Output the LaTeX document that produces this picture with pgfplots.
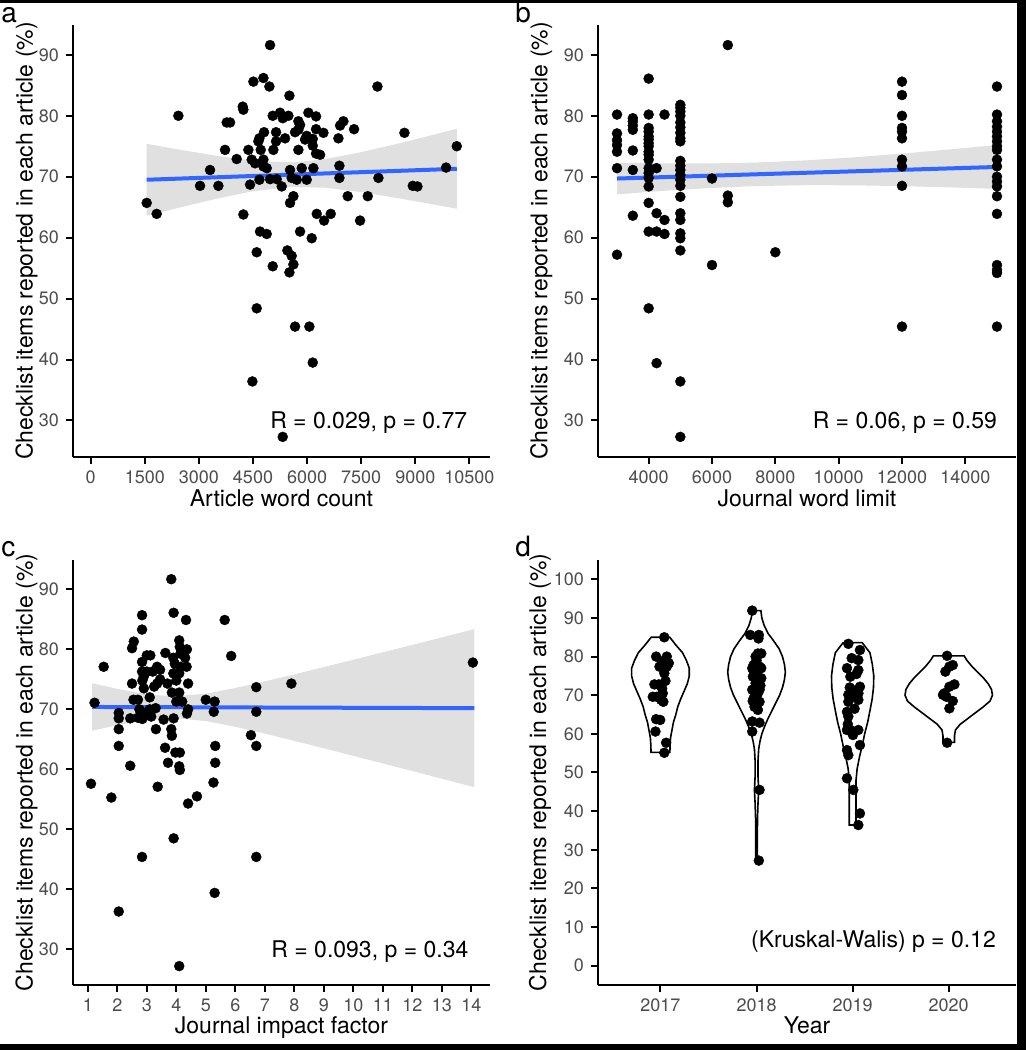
\documentclass[border=0pt]{standalone}
\usepackage{fontspec}
\setmainfont{TeX Gyre Heros}
\usepackage{pgfplots}
\pgfplotsset{compat=1.18}
\definecolor{ggblue}{HTML}{3366FF}
\definecolor{tickgray}{HTML}{4D4D4D}
\tikzset{annot/.style={font=\fontsize{11.5}{13}\selectfont, anchor=base}}
\pgfplotsset{
  ggstyle/.style={
    scale only axis,
    anchor=south west,
    axis lines*=left,
    axis line style={black, line width=1pt},
    tick style={black, line width=1pt},
    tick align=outside,
    major tick length=3.5pt,
    scaled ticks=false,
    tick label style={font=\fontsize{9}{10}\selectfont, text=tickgray},
    label style={font=\fontsize{11.5}{13}\selectfont},
    /pgf/number format/assume math mode=true,
    /pgf/number format/1000 sep={},
    ylabel={Checklist items reported in each article (\%)},
  },
  dots/.style={only marks, mark=*, mark size=2.5pt, mark options={draw=black, fill=black, line width=0.2pt}},
  rib/.style={fill=gray!60, fill opacity=0.4, draw=none},
  fit/.style={ggblue, line width=2pt, no marks},
}
\begin{document}
\begin{tikzpicture}
\fill[white] (0,0) rectangle (513pt,525pt);
\useasboundingbox (0,0) rectangle (513pt,525pt);
% ---------- panel a
\begin{axis}[ggstyle, at={(36.5pt,296.5pt)}, width=208.5pt, height=216pt,
  xmin=-490, xmax=11070, ymin=24, ymax=94.9,
  xtick={0,1500,...,10500}, ytick={30,40,...,90},
  xlabel={Article word count},
  xlabel style={at={(axis description cs:0.5,-0.115)}, anchor=base},
  ylabel style={at={(axis description cs:-0.097,0.5)}, anchor=base}]
\addplot[dots] coordinates {
(4973,91.6) (4511,85.6) (4788,86.2) (4954,84.8) (5509,83.3) (7949,84.8) (2431,80.0) (4215,81.5) (4233,81.0) (3771,78.9) (3864,78.9) (5047,80.0) (5250,80.5) (5324,79.6) (5481,80.0) (6036,80.5) (6248,79.9) (5758,79.1) (5805,78.5) (7006,79.1) (6914,78.4) (7302,77.8) (4806,77.3) (5139,77.3) (5389,76.3) (4677,76.3) (4649,75.8) (5139,75.8) (5666,77.3) (5758,77.7) (5943,76.1) (6156,76.2) (6248,77.8) (6452,77.2) (5989,76.7) (6868,76.3) (8698,77.2) (10149,75.0) (3725,74.4) (4372,74.4) (4714,74.4) (5065,74.4) (5758,74.4) (6156,75.1) (6248,73.8) (6359,73.6) (4048,72.9) (4464,72.8) (4557,72.2) (4788,72.8) (4788,71.7) (4880,71.4) (3309,71.1) (5527,71.1) (5851,71.4) (6174,71.4) (6895,71.8) (9853,71.5) (3032,68.5) (3540,68.5) (4418,68.7) (5296,68.4) (4973,69.6) (5158,69.6) (5573,69.8) (5712,69.5) (5989,69.5) (4677,69.5) (6895,69.8) (7977,69.8) (8929,68.5) (9058,68.4) (5620,66.8) (5527,65.7) (7126,66.8) (7681,66.8) (1553,65.7) (1830,63.9) (4233,63.8) (6267,63.9) (6470,62.8) (6655,63.9) (7468,62.8) (4695,61.0) (4880,60.6) (5805,61.0) (6128,59.9) (4603,57.6) (5047,55.3) (5453,57.9) (5573,57.0) (5620,55.6) (5509,54.3) (4603,48.4) (5666,45.4) (6063,45.4) (6156,39.5) (4483,36.4) (5324,27.3)
};
\addplot[rib] coordinates {
(1553,75.40) (2500,74.40) (3500,73.42) (4500,72.62) (5600,72.35) (6500,72.89) (7500,74.03) (8500,75.40) (9500,76.87) (10149,77.85)
(10149,64.75) (9500,65.45) (8500,66.50) (7500,67.47) (6500,68.19) (5600,68.35) (4500,67.62) (3500,66.40) (2500,65.00) (1553,63.60)
} -- cycle;
\addplot[fit] coordinates {(1553,69.50) (10149,71.30)};
\node[annot] at (axis cs:7708,28.6) {R = 0.029, p = 0.77};
\end{axis}
% ---------- panel b
\begin{axis}[ggstyle, at={(299pt,296.5pt)}, width=209pt, height=216pt,
  xmin=2400, xmax=15600, ymin=24, ymax=94.9,
  xtick={4000,6000,...,14000}, ytick={30,40,...,90},
  xlabel={Journal word limit},
  xlabel style={at={(axis description cs:0.5,-0.115)}, anchor=base},
  ylabel style={at={(axis description cs:-0.121,0.5)}, anchor=base}]
\addplot[dots] coordinates {
(3000,80.2) (3000,77.1) (3000,76.0) (3000,75.2) (3000,74.1) (3000,71.4) (3000,57.2)
(3500,79.6) (3500,79.1) (3500,78.4) (3500,77.7) (3500,74.3) (3500,71.1) (3500,63.6)
(4000,86.1) (4000,80.2) (4000,78.0) (4000,77.4) (4000,76.6) (4000,76.1) (4000,75.5) (4000,75.0) (4000,74.1) (4000,73.6) (4000,72.8) (4000,71.4) (4000,70.6) (4000,69.8) (4000,68.4) (4000,65.7) (4000,61.0) (4000,48.4)
(4250,71.4) (4250,64.0) (4250,61.0) (4250,39.4)
(4500,80.2) (4500,62.9) (4500,60.6)
(5000,81.8) (5000,81.3) (5000,80.7) (5000,80.0) (5000,78.9) (5000,78.1) (5000,77.2) (5000,76.3) (5000,75.8) (5000,72.6) (5000,71.8) (5000,71.1) (5000,70.3) (5000,69.5) (5000,68.5) (5000,66.7) (5000,64.0) (5000,62.9) (5000,60.7) (5000,59.9) (5000,57.9) (5000,36.4) (5000,27.3)
(6000,69.7) (6000,55.5)
(6500,91.6) (6500,66.9) (6500,65.8)
(8000,57.6)
(12000,85.6) (12000,83.4) (12000,80.0) (12000,78.0) (12000,77.4) (12000,76.3) (12000,72.8) (12000,71.7) (12000,68.5) (12000,45.4)
(15000,84.8) (15000,80.2) (15000,79.1) (15000,78.2) (15000,77.4) (15000,76.6) (15000,75.8) (15000,75.0) (15000,74.4) (15000,72.8) (15000,71.7) (15000,70.0) (15000,69.2) (15000,68.4) (15000,66.8) (15000,63.9) (15000,55.5) (15000,54.7) (15000,54.2) (15000,45.4)
};
\addplot[rib] coordinates {
(3000,72.30) (4500,72.19) (6000,72.18) (7372,72.32) (9000,72.69) (10500,73.19) (12000,73.79) (13500,74.47) (15000,75.20)
(15000,68.00) (13500,68.25) (12000,68.45) (10500,68.59) (9000,68.61) (7372,68.46) (6000,68.16) (4500,67.70) (3000,67.10)
} -- cycle;
\addplot[fit] coordinates {(3000,69.70) (15000,71.60)};
\node[annot] at (axis cs:12089,28.6) {R = 0.06, p = 0.59};
\end{axis}
% ---------- panel c
\begin{axis}[ggstyle, at={(36.5pt,32.5pt)}, width=208.5pt, height=212.5pt,
  xmin=0.5, xmax=14.63, ymin=24.05, ymax=94.9,
  xtick={1,...,14}, ytick={30,40,...,90},
  xlabel={Journal impact factor},
  xlabel style={at={(axis description cs:0.5,-0.114)}, anchor=base},
  ylabel style={at={(axis description cs:-0.097,0.5)}, anchor=base}]
\addplot[dots] coordinates {
(3.83,91.7) (3.91,86.1) (2.84,85.7) (4.33,84.9) (5.64,84.9) (2.84,83.3) (2.56,81.3) (2.50,80.2) (4.10,81.5) (4.12,80.4) (4.36,80.0) (1.54,77.1) (5.86,78.9) (14.05,77.8) (3.63,79.4) (3.00,79.0) (3.12,79.0) (4.14,79.3) (3.9,78.6) (4.3,78.6) (2.84,77.9) (3.35,77.1) (3.45,76.6) (3.95,77.6) (4.15,77.1) (4.35,77.1) (2.84,76.3) (3.00,76.3) (3.2,76.3) (3.9,76.0) (4.1,76.0) (2.50,74.3) (2.85,74.8) (3.35,74.3) (3.70,74.3) (3.45,75.0) (4.40,74.3) (2.90,73.5) (3.85,72.8) (4.10,72.8) (7.90,74.3) (6.71,73.7) (1.23,71.1) (2.55,71.6) (2.70,71.6) (3.10,72.0) (2.05,69.4) (2.05,68.5) (2.44,68.5) (2.75,70.0) (2.90,69.3) (3.0,69.5) (2.85,68.4) (3.15,68.8) (3.30,70.2) (3.57,68.3) (3.91,68.5) (4.0,71.3) (4.2,71.3) (4.36,69.3) (5.0,71.6) (5.3,71.3) (5.27,69.6) (6.71,69.6) (2.05,66.7) (2.05,63.9) (3.31,66.7) (3.83,66.7) (3.85,65.6) (3.62,63.6) (3.97,62.8) (4.12,62.8) (5.32,63.9) (5.32,61.1) (5.26,57.8) (6.53,65.7) (6.71,63.9) (2.44,60.6) (3.72,61.1) (4.10,60.5) (4.12,59.9) (1.11,57.6) (3.37,57.1) (1.80,55.3) (4.70,55.5) (4.40,54.3) (3.91,48.5) (2.84,45.4) (6.71,45.4) (5.30,39.4) (2.05,36.3) (4.10,27.2) (2.7,68.6) (3.1,70.0) (4.4,70.0) (2.9,75.5) (4.0,74.8) (3.25,73.8)
};
\addplot[rib] coordinates {
(1.15,74.35) (2,73.41) (3,72.51) (3.9,72.16) (5,72.62) (6,73.56) (7,74.66) (8,75.83) (9,77.05) (10,78.27) (11,79.51) (12,80.74) (13,82.00) (14.1,83.37)
(14.1,57.03) (13,58.44) (12,59.72) (11,60.99) (10,62.25) (9,63.51) (8,64.75) (7,65.96) (6,67.10) (5,68.06) (3.9,68.56) (3,68.23) (2,67.37) (1.15,66.45)
} -- cycle;
\addplot[fit] coordinates {(1.15,70.40) (14.1,70.20)};
\node[annot] at (axis cs:10.56,28.67) {R = 0.093, p = 0.34};
\end{axis}
% ---------- panel d
\begin{axis}[ggstyle, at={(299pt,32.5pt)}, width=209pt, height=212.5pt,
  xmin=0.35, xmax=4.70, ymin=-5, ymax=105,
  xtick={1,2,3,4}, xticklabels={2017,2018,2019,2020}, ytick={0,10,...,100},
  xlabel={Year},
  xlabel style={at={(axis description cs:0.5,-0.114)}, anchor=base},
  ylabel style={at={(axis description cs:-0.124,0.5)}, anchor=base}]
\addplot[draw=black, line width=0.8pt, fill=white] coordinates {
(1.097,85.0) (1.16,83) (1.23,81) (1.27,79) (1.30,77) (1.30,75) (1.28,73) (1.245,71) (1.21,69) (1.18,67) (1.16,65) (1.135,63) (1.12,61) (1.105,59) (1.10,57) (1.098,55.2)
(0.902,55.2) (0.90,57) (0.895,59) (0.88,61) (0.865,63) (0.84,65) (0.82,67) (0.79,69) (0.755,71) (0.72,73) (0.70,75) (0.70,77) (0.73,79) (0.77,81) (0.84,83) (0.903,85.0)
} -- cycle;
\addplot[draw=black, line width=0.8pt, fill=white] coordinates {
(2.045,91.9) (2.055,90) (2.08,88) (2.12,86) (2.18,84) (2.235,82) (2.27,80) (2.29,78) (2.30,76) (2.29,74) (2.27,72) (2.24,70) (2.20,68) (2.16,66) (2.12,64) (2.085,62) (2.055,60) (2.035,58) (2.022,56) (2.015,53) (2.015,49) (2.022,45.5) (2.015,42) (2.01,38) (2.008,33) (2.008,29) (2.01,27.2)
(1.99,27.2) (1.992,29) (1.992,33) (1.99,38) (1.985,42) (1.978,45.5) (1.985,49) (1.985,53) (1.978,56) (1.965,58) (1.945,60) (1.915,62) (1.88,64) (1.84,66) (1.80,68) (1.76,70) (1.73,72) (1.71,74) (1.70,76) (1.71,78) (1.73,80) (1.765,82) (1.82,84) (1.88,86) (1.92,88) (1.945,90) (1.955,91.9)
} -- cycle;
\addplot[draw=black, line width=0.8pt, fill=white] coordinates {
(3.099,83.6) (3.18,81) (3.205,78) (3.22,75) (3.217,72) (3.203,69) (3.18,66) (3.156,63) (3.125,60) (3.10,57) (3.071,54) (3.047,51) (3.035,48) (3.035,45) (3.035,42) (3.035,39) (3.035,36.4)
(2.965,36.4) (2.965,39) (2.965,42) (2.965,45) (2.965,48) (2.953,51) (2.929,54) (2.90,57) (2.875,60) (2.844,63) (2.82,66) (2.797,69) (2.783,72) (2.78,75) (2.795,78) (2.82,81) (2.901,83.6)
} -- cycle;
\addplot[draw=black, line width=0.8pt, fill=white] coordinates {
(4.16,80.2) (4.19,79) (4.24,77.5) (4.30,76) (4.36,74.5) (4.41,73) (4.445,71.5) (4.455,70) (4.43,68.5) (4.36,67) (4.28,65.5) (4.20,64) (4.12,62.5) (4.07,61) (4.06,59.5) (4.06,57.8)
(3.94,57.8) (3.94,59.5) (3.93,61) (3.88,62.5) (3.80,64) (3.72,65.5) (3.64,67) (3.57,68.5) (3.545,70) (3.555,71.5) (3.59,73) (3.64,74.5) (3.70,76) (3.76,77.5) (3.81,79) (3.84,80.2)
} -- cycle;
\addplot[dots] coordinates {
(1.04,85.0) (0.955,80.0) (1.066,80.0) (1.017,78.7) (1.087,78.3) (0.99,77.4) (1.066,77.4) (1.04,75.7) (1.052,73.7) (0.937,72.8) (0.983,72.8) (1.017,71.8) (1.024,70.5) (0.92,69.6) (0.962,69.6) (1.03,68.3) (1.007,68.8) (0.955,63.8) (0.997,63.6) (0.948,60.6) (1.059,57.7) (1.04,55.1)
(1.955,91.9) (1.934,85.6) (2.024,85.6) (2.02,84.7) (2.014,80.8) (2.049,80.8) (1.99,80.0) (1.969,77.8) (2.031,77.4) (1.955,77.0) (2.049,77.0) (1.99,75.7) (1.962,74.8) (2.049,74.4) (1.99,73.1) (1.955,71.4) (2.031,71.4) (2.014,70.5) (1.97,69.2) (2.031,68.3) (1.979,67.0) (2.014,66.2) (1.955,63.2) (2.031,62.9) (1.955,60.6) (2.031,45.5) (2.024,27.2) (2.0,79.0) (1.97,76.2) (2.04,72.5) (1.96,68.5)
(2.955,83.3) (3.076,81.7) (2.99,79.6) (3.059,79.1) (2.941,77.0) (3.059,76.5) (2.976,74.8) (3.076,72.2) (3.042,71.4) (2.955,70.1) (3.007,69.6) (3.059,68.8) (2.955,68.3) (2.941,65.7) (2.955,64.5) (2.941,61.0) (2.976,61.0) (3.059,61.0) (3.003,59.7) (3.076,57.1) (2.941,55.8) (2.955,54.5) (2.941,48.5) (3.007,45.5) (3.076,39.4) (3.059,36.4) (3.04,75.5) (2.97,72.0) (3.02,66.5) (2.95,62.5) (3.06,70.5)
(3.983,80.2) (4.007,77.4) (4.042,77.8) (3.965,76.1) (4.059,72.8) (4.007,72.2) (3.94,70.1) (3.976,69.6) (4.042,68.5) (4.007,66.6) (3.983,57.7) (3.955,70.5)
};
\node[annot] at (axis cs:3.217,4.66) {(Kruskal-Walis) p = 0.12};
\end{axis}
% ---------- panel tags
\node[anchor=base west, inner sep=0, font=\fontsize{14}{16}\selectfont] at (0.5pt,513.5pt) {a};
\node[anchor=base west, inner sep=0, font=\fontsize{14}{16}\selectfont] at (257.5pt,513.5pt) {b};
\node[anchor=base west, inner sep=0, font=\fontsize{14}{16}\selectfont] at (0.5pt,246.5pt) {c};
\node[anchor=base west, inner sep=0, font=\fontsize{14}{16}\selectfont] at (257.5pt,246.5pt) {d};
% ---------- screenshot frame
\fill[black] (0,523.5pt) rectangle (513pt,525pt);
\fill[black] (508.5pt,0) rectangle (513pt,525pt);
\fill[black] (0,0) rectangle (513pt,3pt);
\end{tikzpicture}
\end{document}
